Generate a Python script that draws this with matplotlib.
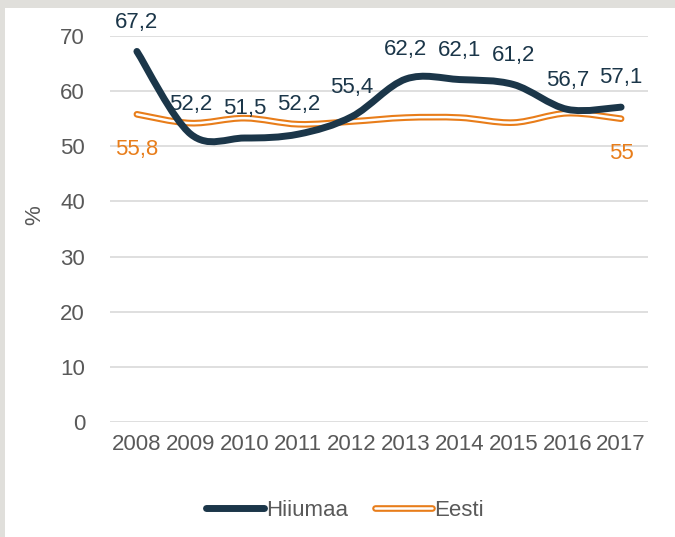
import numpy as np
import matplotlib.pyplot as plt
from matplotlib.path import Path
from matplotlib.patches import PathPatch, Rectangle
from matplotlib.lines import Line2D
import matplotlib.patheffects as pe

plt.rcParams['font.family'] = ['Liberation Sans', 'DejaVu Sans']

years = ['2008', '2009', '2010', '2011', '2012', '2013', '2014', '2015', '2016', '2017']
hiiumaa = [67.2, 52.2, 51.5, 52.2, 55.4, 62.2, 62.1, 61.2, 56.7, 57.1]
eesti = [55.8, 54.2, 55.1, 54.0, 54.5, 55.2, 55.2, 54.3, 56.0, 55.0]
eesti_shown = {0: '55,8', 9: '55'}   # only first and last labelled

navy = '#1b3649'
orange = '#e87d1a'
grey = '#595959'


def smooth_path(xs, ys):
    # excel-like smoothed line: catmull-rom as cubic beziers
    p = np.column_stack([xs, ys]).astype(float)
    p = np.vstack([p[0], p, p[-1]])
    verts = [p[1]]
    codes = [Path.MOVETO]
    for i in range(1, len(p) - 2):
        c1 = p[i] + (p[i + 1] - p[i - 1]) / 6
        c2 = p[i + 1] - (p[i + 2] - p[i]) / 6
        verts += [c1, c2, p[i + 1]]
        codes += [Path.CURVE4] * 3
    return Path(verts, codes)


fig = plt.figure(figsize=(6.75, 5.37), dpi=100)
fig.patch.set_facecolor('#e0dfdb')
fig.patches.append(Rectangle((5 / 675, 0), 1, 1 - 8 / 537, transform=fig.transFigure,
                             facecolor='white', edgecolor='none', zorder=-10))

ax = fig.add_axes([110 / 675, 1 - 422 / 537, 538 / 675, 386 / 537])
ax.set_facecolor('none')
x = np.arange(len(years))

ax.add_patch(PathPatch(smooth_path(x, eesti), facecolor='none', edgecolor=orange,
                       lw=4.8, capstyle='round', joinstyle='round', zorder=3))
ax.add_patch(PathPatch(smooth_path(x, eesti), facecolor='none', edgecolor='white',
                       lw=1.8, capstyle='round', joinstyle='round', zorder=3))
ax.add_patch(PathPatch(smooth_path(x, hiiumaa), facecolor='none', edgecolor=navy,
                       lw=5, capstyle='round', joinstyle='round', zorder=4))

for i, v in enumerate(hiiumaa):
    ax.annotate(f'{v:.1f}'.replace('.', ','), (x[i], v), xytext=(0, 21),
                textcoords='offset points', ha='center', va='center',
                fontsize=16, color=navy)
for i, s in eesti_shown.items():
    ax.annotate(s, (x[i], eesti[i]), xytext=(0, -25),
                textcoords='offset points', ha='center', va='center',
                fontsize=16, color=orange)

ax.set_xlim(-0.5, len(years) - 0.5)
ax.set_ylim(0, 70)
ax.set_yticks(range(0, 71, 10))
ax.set_xticks(x)
ax.set_xticklabels(years)
ax.tick_params(axis='both', length=0, labelsize=16, labelcolor=grey)
ax.tick_params(axis='y', pad=18)
ax.tick_params(axis='x', pad=9)
ax.grid(axis='y', color='#d9d9d9', lw=1.2)
ax.set_axisbelow(True)
for s in ax.spines.values():
    s.set_visible(False)
ax.set_ylabel('%', fontsize=16, color=grey)
ax.yaxis.set_label_coords(-0.12, 0.536)

h1 = Line2D([], [], color=navy, lw=5, solid_capstyle='round')
h2 = Line2D([], [], color='white', lw=1.8, solid_capstyle='round',
            path_effects=[pe.Stroke(linewidth=4.8, foreground=orange), pe.Normal()])
fig.legend([h1, h2], ['Hiiumaa', 'Eesti'], loc='center', bbox_to_anchor=(345 / 675, 1 - 510 / 537),
           ncol=2, frameon=False, fontsize=16, labelcolor=grey, handlelength=2.6,
           handletextpad=0.1, columnspacing=1.2)

fig.savefig('out.png', dpi=100)
